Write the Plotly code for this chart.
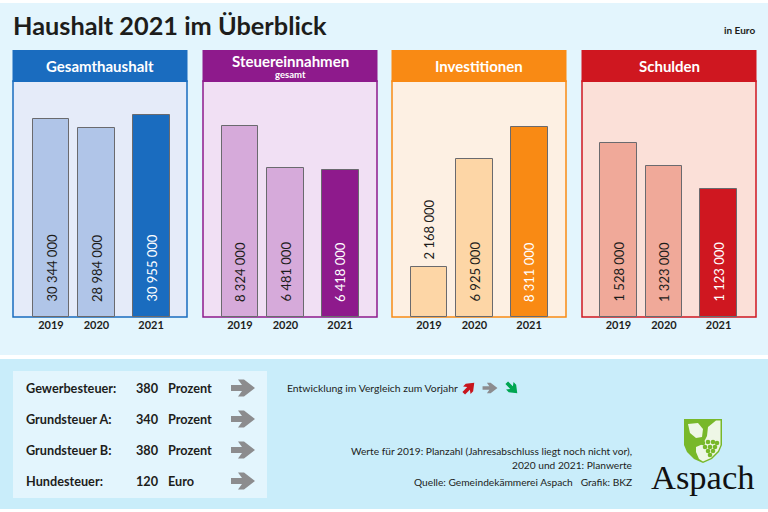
import plotly.graph_objects as go

W, H = 768, 512

# Daten
years = ["2019", "2020", "2021"]
bar_pos = [0, 1, 2.2]
titles = ["Gesamthaushalt", "Steuereinnahmen", "Investitionen", "Schulden"]
gesamthaushalt = [30344000, 28984000, 30955000]
steuereinnahmen = [8324000, 6481000, 6418000]
investitionen = [2168000, 6925000, 8311000]
schulden = [1528000, 1323000, 1123000]

tax_names = ["Gewerbesteuer:", "Grundsteuer A:", "Grundsteuer B:", "Hundesteuer:"]
tax_values = ["380", "340", "380", "120"]
tax_units = ["Prozent", "Prozent", "Prozent", "Euro"]

series = [gesamthaushalt, steuereinnahmen, investitionen, schulden]
# links, erster Balken (Mitte), Euro pro Pixel
panel_left = [13, 203, 392, 582]
panel_first = [51, 240, 429, 618.5]
panel_scale = [153000, 43600, 43700, 8770]
dark_col = ["#1a6cbf", "#8e1a8c", "#f98a14", "#cf1720"]
light_col = ["#b0c5e8", "#d6aada", "#fdd6a6", "#f0a999"]
bg_col = ["#e5ebf9", "#f1e0f4", "#fdf0e3", "#fbe0d8"]

FONT = "Lato"
TEXT = "#1d1d1b"
STEP = 45.5


def px(x):
    return x / W


def py(y):
    return 1 - y / H


def rect(x0, y0, x1, y1, fill, line=None, lw=0):
    return dict(type="rect", xref="paper", yref="paper", layer="below",
                x0=px(x0), x1=px(x1), y0=py(y0), y1=py(y1), fillcolor=fill,
                line=dict(color=line or fill, width=lw))


def path(points, fill, layer="above"):
    d = "M" + " L".join(f"{px(x):.5f},{py(y):.5f}" for x, y in points) + " Z"
    return dict(type="path", xref="paper", yref="paper", path=d, fillcolor=fill,
                line=dict(width=0), layer=layer)


def dot(x, y, r, fill):
    return dict(type="circle", xref="paper", yref="paper", x0=px(x - r), x1=px(x + r),
                y0=py(y + r), y1=py(y - r), fillcolor=fill, line=dict(width=0))


def text(x, y, s, size=12, color=TEXT, anchor="left", bold=False, family=FONT):
    return dict(x=px(x), y=py(y), xref="paper", yref="paper", text=f"<b>{s}</b>" if bold else s,
                showarrow=False, xanchor=anchor, yanchor="middle", borderpad=0,
                font=dict(size=size, color=color, family=family))


fig = go.Figure()
shapes = [
    rect(0, 3, 768, 355, "#e3f5fd"),
    rect(0, 359, 768, 509, "#c9edfa"),
    rect(13, 371, 267, 498, "#e3f5fd"),
]
notes = [
    text(12, 25, "Haushalt 2021 im Überblick", 25.3, bold=True),
    text(756, 30, "in Euro", 10, anchor="right", bold=True),
]

for i, vals in enumerate(series):
    left = panel_left[i]
    right = left + 174
    n = str(i + 1) if i else ""
    shapes.append(rect(left, 81, right, 317, bg_col[i], dark_col[i], 1.5))
    shapes.append(rect(left - 0.5, 50, right + 0.5, 82, dark_col[i]))

    cols = [light_col[i], light_col[i], dark_col[i]]
    fig.add_trace(go.Bar(x=bar_pos, y=vals, width=0.81, xaxis="x" + n, yaxis="y" + n,
                         marker=dict(color=cols, line=dict(color="#6a6a6e", width=1)),
                         showlegend=False))

    # Achsen auf den Kasten legen, Nulllinie liegt auf der Unterkante
    fig.layout["xaxis" + n] = dict(
        domain=[px(left), px(right)], anchor="y" + n, showgrid=False, zeroline=False,
        range=[(left - panel_first[i]) / STEP, (right - panel_first[i]) / STEP],
        tickvals=bar_pos, ticktext=[f"<b>{y}</b>" for y in years], ticks="", showline=False,
        tickfont=dict(size=11, color=TEXT, family=FONT),
    )
    fig.layout["yaxis" + n] = dict(
        domain=[py(317), py(82)], anchor="x" + n, showgrid=False, zeroline=False,
        range=[0, 235 * panel_scale[i]], visible=False,
    )

    # Werte senkrecht in den Balken
    for j, v in enumerate(vals):
        label = f"{v:,}".replace(",", " ")
        outside = v / panel_scale[i] < 80
        notes.append(dict(
            x=bar_pos[j], y=v if outside else 0, xref="x" + n, yref="y" + n, text=label,
            showarrow=False, textangle=-90, xanchor="center", yanchor="bottom",
            yshift=6 if outside else 13,
            font=dict(size=13, family=FONT, color="white" if j == 2 else TEXT),
        ))

    if i == 1:
        notes.append(text(left + 87, 60.5, titles[i], 15, "white", "center", True))
        notes.append(text(left + 87, 74, "gesamt", 9.5, "white", "center", True))
    else:
        notes.append(text(left + 87, 66, titles[i], 15, "white", "center", True))


def arrow(cx, cy, size, col, turn=None):
    # turn: 1 schraeg hoch, -1 schraeg runter
    base = [(-12, -3), (-1, -3), (-5, -8.5), (1, -8.5), (12, 0), (1, 8.5), (-5, 8.5), (-1, 3), (-12, 3)]
    pts = []
    for x, y in base:
        x, y = x * size, y * size
        if turn:
            k = 0.7071
            x, y = k * x + turn * k * y, -turn * k * x + k * y
        pts.append((cx + x, cy + y))
    return path(pts, col)


for k, (name, val, unit) in enumerate(zip(tax_names, tax_values, tax_units)):
    y = 388 + k * 31
    notes.append(text(24.5, y, name, 12.7, bold=True))
    notes.append(text(160, y, val, 12.7, anchor="right", bold=True))
    notes.append(text(166.5, y, unit, 12.7, bold=True))
    shapes.append(arrow(243, y, 1, "#8c8c8e"))

notes.append(text(286, 388, "Entwicklung im Vergleich zum Vorjahr", 10.4))
shapes.append(arrow(469, 388, 0.62, "#c8161d", 1))
shapes.append(arrow(490, 388, 0.62, "#8c8c8e"))
shapes.append(arrow(512, 388, 0.62, "#00a651", -1))

notes.append(text(633, 451, "Werte für 2019: Planzahl (Jahresabschluss liegt noch nicht vor),", 10.2, anchor="right"))
notes.append(text(633, 465, "2020 und 2021: Planwerte", 10.2, anchor="right"))
notes.append(text(633, 482, "Quelle: Gemeindekämmerei Aspach   Grafik: BKZ", 10.2, anchor="right"))

# Wappen
GREEN = "#78b82a"
shapes.append(path([(684, 419), (722, 419), (722, 445), (719, 452), (712, 459), (703, 463),
                    (694, 459), (687, 452), (684, 445)], GREEN))
shapes.append(path([(716, 420.5), (720.5, 420.5), (720.5, 445), (718, 451), (711, 458), (703, 461.5),
                    (699, 459), (696, 452), (696, 447), (703, 444), (707, 436), (708, 427)], "#eef7e6"))
shapes.append(path([(688, 424), (698, 423), (703, 429), (702, 437), (696, 438), (690, 433)], "#eef7e6"))
for gx, gy in [(703, 443), (708, 442), (713, 442), (717, 443), (705, 447), (710, 447), (715, 447),
               (708, 451), (713, 451), (710, 455)]:
    shapes.append(dot(gx, gy, 2.3, GREEN))
notes.append(text(702.5, 477, "Aspach", 34.5, "#111111", "center", family="Liberation Serif"))

fig.update_layout(
    width=W, height=H, margin=dict(l=0, r=0, t=0, b=0), autosize=False,
    paper_bgcolor="white", plot_bgcolor="rgba(0,0,0,0)", bargap=0,
    shapes=shapes, annotations=notes, font=dict(family=FONT),
)

fig.write_html("out.html", config={"displayModeBar": False},
               post_script="document.body.style.margin='0';")
